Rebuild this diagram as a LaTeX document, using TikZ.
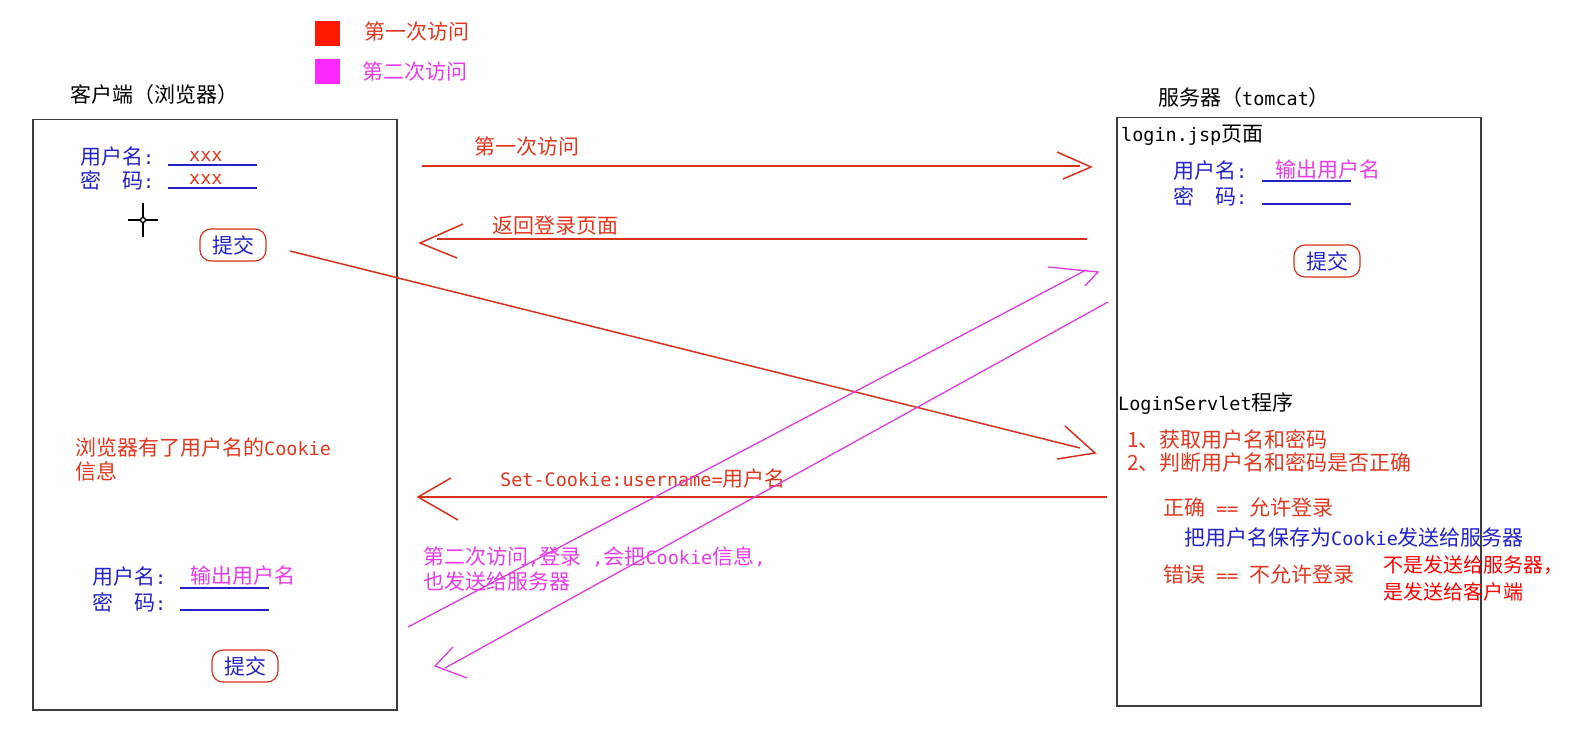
\documentclass[tikz,border=0pt]{standalone}
\usepackage{fontspec}
\setmainfont{Noto Sans CJK SC}
\newfontfamily\monof[Scale=0.88]{DejaVu Sans Mono}
\newcommand\latn[1]{{\monof #1}}
\definecolor{redT}{RGB}{225,55,30}
\definecolor{redL}{RGB}{215,50,30}
\definecolor{magT}{RGB}{232,60,232}
\definecolor{magL}{RGB}{220,60,220}
\definecolor{blueT}{RGB}{35,35,200}
\definecolor{legR}{RGB}{255,25,0}
\definecolor{legM}{RGB}{255,40,255}
\definecolor{boxC}{RGB}{60,60,60}
\definecolor{noteR}{RGB}{255,0,0}
\begin{document}
\begin{tikzpicture}[x=1pt,y=-1pt,
  lbl/.style={inner sep=0pt, anchor=west, font=\fontsize{21}{25}\selectfont},
  note/.style={inner sep=0pt, anchor=west, font=\fontsize{20}{24}\selectfont, text=noteR},
  legsq/.style={inner sep=0pt, minimum size=25pt, anchor=north west},
  panel/.style={draw=boxC, line width=1.5pt, inner sep=0pt, anchor=north west},
  btnbox/.style={draw=redL, line width=1.2pt, rounded corners=11pt, minimum width=66pt, minimum height=32pt, inner sep=0pt, text=blueT, font=\fontsize{21}{25}\selectfont},
  ulin/.style={draw=blueT, line width=1.3pt},
  rln/.style={draw=redL, line width=1.5pt},
  mln/.style={draw=magL, line width=1.3pt},
  crossln/.style={draw=black, line width=1.3pt}]
\fill[white] (0,0) rectangle (1579,754);
\useasboundingbox (0,0) rectangle (1579,754);

% legend
\node[legsq, fill=legR] (leg1) at (315,21) {};
\node[legsq, fill=legM] (leg2) at (315,59) {};
\node[lbl, text=redT] (leg1t) at (364,32) {第一次访问};
\node[lbl, text=magT] (leg2t) at (362,72) {第二次访问};

% titles
\node[lbl, text=black] (clientT) at (70,95) {客户端（浏览器）};
\node[lbl, text=black] (serverT) at (1158,98) {服务器（\latn{tomcat}）};

% panels
\node[panel, minimum width=364pt, minimum height=590pt] (client) at (32,119) {};
\node[panel, minimum width=364pt, minimum height=588pt] (server) at (1116,117) {};

% client top form
\node[lbl, text=blueT] (u1) at (80,157) {用户名\latn{:}};
\node[lbl, text=blueT] (p1) at (80,180) {密\hspace{1em}码\latn{:}};
\draw[ulin] (168,165) -- (257,165);
\draw[ulin] (168,188) -- (257,188);
\node[lbl, text=redT] (x1) at (189,156) {\latn{xxx}};
\node[lbl, text=redT] (x2) at (189,179) {\latn{xxx}};
\coordinate (cross) at (143,220);
\draw[crossln] (cross) +(-15,0) -- +(15,0);
\draw[crossln] (cross) +(0,-17) -- +(0,17);
\draw[crossln, fill=white] (cross) circle (2.5);
\node[btnbox] (btn1) at (233,245) {提交};

% server top form
\node[lbl, text=black] (jsp) at (1121,135) {\latn{login.jsp}页面};
\node[lbl, text=blueT] (u2) at (1173,171) {用户名\latn{:}};
\node[lbl, text=blueT] (p2) at (1173,196) {密\hspace{1em}码\latn{:}};
\draw[ulin] (1262,181) -- (1351,181);
\draw[ulin] (1262,204) -- (1351,204);
\node[lbl, text=magT] (out2) at (1275,170) {输出用户名};
\node[btnbox] (btn2) at (1327,261) {提交};

% server servlet
\node[lbl, text=black] (servlet) at (1118,404) {\latn{LoginServlet}程序};
\node[lbl, text=redT] (s1) at (1127,439) {1、获取用户名和密码};
\node[lbl, text=redT] (s2) at (1127,462) {2、判断用户名和密码是否正确};
\node[lbl, text=redT] (s3) at (1163,507) {正确\latn{\ ==\ }允许登录};
\node[lbl, text=blueT] (s4) at (1184,538) {把用户名保存为\latn{Cookie}发送给服务器};
\node[lbl, text=redT] (s5) at (1163,574) {错误\latn{\ ==\ }不允许登录};
\node[note] (n1) at (1383,565) {不是发送给服务器，};
\node[note] (n2) at (1383,592) {是发送给客户端};

% client lower
\node[lbl, text=redT] (c1) at (75,448) {浏览器有了用户名的\latn{Cookie}};
\node[lbl, text=redT] (c2) at (75,471) {信息};
\node[lbl, text=blueT] (u3) at (92,577) {用户名\latn{:}};
\node[lbl, text=blueT] (p3) at (92,602) {密\hspace{1em}码\latn{:}};
\draw[ulin] (180,588) -- (269,588);
\draw[ulin] (180,610) -- (269,610);
\node[lbl, text=magT] (out3) at (190,576) {输出用户名};
\node[btnbox] (btn3) at (245,666) {提交};

% arrow labels
\node[lbl, text=redT] (l1) at (474,147) {第一次访问};
\node[lbl, text=redT] (l2) at (492,226) {返回登录页面};
\node[lbl, text=redT] (l4) at (500,479) {\latn{Set-Cookie:username=}用户名};
\node[lbl, text=magT] (l5) at (423,557) {第二次访问\latn{,}登录\latn{\ ,}会把\latn{Cookie}信息\latn{,}};
\node[lbl, text=magT] (l6) at (423,582) {也发送给服务器};

% arrow 1: first visit
\coordinate (a1s) at (422,166);
\coordinate (a1e) at (1080,166);
\coordinate (a1t) at (1091,167);
\coordinate (a1u) at (1057,152);
\coordinate (a1d) at (1063,179);
\draw[rln] (a1s) -- (a1e);
\draw[rln] (a1u) -- (a1t) -- (a1d);

% arrow 2: return login page
\coordinate (a2s) at (1087,239);
\coordinate (a2e) at (437,239);
\coordinate (a2t) at (420,243);
\coordinate (a2u) at (463,224);
\coordinate (a2d) at (457,258);
\draw[rln] (a2s) -- (a2e);
\draw[rln] (a2u) -- (a2t) -- (a2d);

% arrow 3: submit to servlet
\coordinate (a3s) at (290,251);
\coordinate (a3e) at (1080,448);
\coordinate (a3t) at (1095,453);
\coordinate (a3u) at (1065,426);
\coordinate (a3d) at (1057,459);
\draw[rln] (a3s) -- (a3e);
\draw[rln] (a3u) -- (a3t) -- (a3d);

% arrow 4: set-cookie
\coordinate (a4s) at (1107,497);
\coordinate (a4t) at (418,497);
\coordinate (a4u) at (451,478);
\coordinate (a4d) at (458,520);
\draw[rln] (a4s) -- (a4t);
\draw[rln] (a4u) -- (a4t) -- (a4d);

% magenta arrow A: second visit to server
\coordinate (mAs) at (408,627);
\coordinate (mAe) at (1086,270);
\coordinate (mAt) at (1098,272);
\coordinate (mAu) at (1048,267);
\coordinate (mAd) at (1085,286);
\draw[mln] (mAs) -- (mAe);
\draw[mln] (mAu) -- (mAt) -- (mAd);

% magenta arrow B: back to client
\coordinate (mBs) at (1108,302);
\coordinate (mBe) at (445,668);
\coordinate (mBt) at (435,666);
\coordinate (mBu) at (453,647);
\coordinate (mBd) at (467,678);
\draw[mln] (mBs) -- (mBe);
\draw[mln] (mBu) -- (mBt) -- (mBd);
\end{tikzpicture}
\end{document}
